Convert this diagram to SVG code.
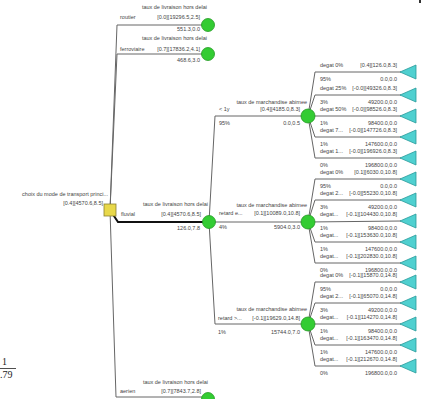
<svg xmlns="http://www.w3.org/2000/svg" width="422" height="399" viewBox="0 0 422 399">
<style>
text{font-family:"Liberation Sans",Arial,sans-serif;font-size:5.5px;fill:#444}
.e{text-anchor:end}
.ln{fill:none;stroke:#666;stroke-width:1}
.thick{fill:none;stroke:#111;stroke-width:2}
.ch{fill:#33cc33;stroke:#229922;stroke-width:0.8}
.dec{fill:#e8d84a;stroke:#8a8030;stroke-width:0.8}
.tm{fill:#4fd0d0;stroke:#2a9a9a;stroke-width:0.8}
.frag{font-family:"Liberation Serif","Times New Roman",serif;font-size:10px;fill:#222}
</style>
<rect width="422" height="399" fill="#fff"/>
<rect x="419" y="0" width="2" height="3" fill="#333"/>
<g id="fragment">
<text class="frag" x="2" y="365">1</text>
<line x1="0" y1="368.5" x2="16" y2="368.5" stroke="#222" stroke-width="0.8"/>
<text class="frag" x="0" y="378">.79</text>
</g>
<g id="connectors">
<path class="ln" d="M110,210 L117,25 L208,25"/>
<path class="ln" d="M110,210 L117,54 L208,54"/>
<path class="ln" d="M110,210 L116,397 L208,397"/>
<path class="thick" d="M110,210 L118,222 L209,222"/>
<path class="ln" d="M209,222 L215,116 L308,116"/>
<path class="ln" d="M209,222 L308,222"/>
<path class="ln" d="M209,222 L215,324 L308,324"/>
<path class="ln" d="M308,116 L315,72 L401,72 M308,116 L315,95 L401,95 M308,116 L401,116 M308,116 L315,137 L401,137 M308,116 L315,158 L401,158"/>
<path class="ln" d="M308,222 L315,179 L401,179 M308,222 L315,200 L401,200 M308,222 L401,221 M308,222 L315,242 L401,242 M308,222 L315,263 L401,263"/>
<path class="ln" d="M308,324 L315,282 L401,282 M308,324 L315,303 L401,303 M308,324 L401,324 M308,324 L315,345 L401,345 M308,324 L315,366 L401,366"/>
</g>
<g id="decision">
<text class="e" x="108" y="196">choix du mode de transport princi...</text>
<text class="e" x="103" y="205">[0.4][4570.6,8.5]</text>
<rect class="dec" x="104" y="204" width="12" height="12"/>
</g>
<g id="routier">
<text class="e" x="207" y="9">taux de livraison hors delai</text>
<text x="120" y="19">routier</text>
<text class="e" x="200" y="19">[0.0][19296.5,2.5]</text>
<text class="e" x="200" y="31">551.3,0.0</text>
<circle class="ch" cx="208" cy="25" r="6.5"/>
</g>
<g id="ferroviaire">
<text class="e" x="207" y="40">taux de livraison hors delai</text>
<text x="120" y="51">ferroviaire</text>
<text class="e" x="200" y="51">[0.7][17836.2,4.1]</text>
<text class="e" x="200" y="62">468.6,3.0</text>
<circle class="ch" cx="208" cy="54" r="6.5"/>
</g>
<g id="fluvial">
<text class="e" x="208" y="206">taux de livraison hors delai</text>
<text x="121" y="216">fluvial</text>
<text class="e" x="201" y="216">[0.4][4570.6,8.5]</text>
<text class="e" x="200" y="230">126.0,7.8</text>
<circle class="ch" cx="209" cy="222" r="6.5"/>
</g>
<g id="aerien">
<text class="e" x="208" y="384">taux de livraison hors delai</text>
<text x="120" y="393">aerien</text>
<text class="e" x="201" y="393">[0.7][7843.7,2.8]</text>
<circle class="ch" cx="208" cy="399" r="6.5"/>
</g>
<g id="moins1y">
<text class="e" x="307" y="104">taux de marchandise abimee</text>
<text x="219" y="111">&lt; 1y</text>
<text class="e" x="300" y="111">[0.4][4185.0,8.3]</text>
<text x="219" y="125">95%</text>
<text class="e" x="300" y="125">0.0,0.5</text>
<circle class="ch" cx="308" cy="116" r="7"/>
</g>
<g id="retard-e">
<text class="e" x="307" y="207">taux de marchandise abimee</text>
<text x="219" y="215">retard e...</text>
<text class="e" x="300" y="215">[0.1][10089.0,10.8]</text>
<text x="219" y="229">4%</text>
<text class="e" x="300" y="229">5904.0,3.0</text>
<circle class="ch" cx="308" cy="222" r="7"/>
</g>
<g id="retard-sup">
<text class="e" x="307" y="311">taux de marchandise abimee</text>
<text x="218" y="320">retard &gt;...</text>
<text class="e" x="300" y="320">[-0.1][19629.0,14.8]</text>
<text x="218" y="334">1%</text>
<text class="e" x="300" y="334">15744.0,7.0</text>
<circle class="ch" cx="308" cy="324" r="7"/>
</g>
<g id="leaves-g1">
<text x="320" y="67">degat 0%</text><text class="e" x="397" y="67">[0.4][126.0,8.3]</text>
<text x="320" y="81">95%</text><text class="e" x="397" y="81">0.0,0.0</text>
<polygon class="tm" points="400,72 416,65 416,79"/>
<text x="320" y="90">degat 25%</text><text class="e" x="397" y="90">[-0.0][49326.0,8.3]</text>
<text x="320" y="104">3%</text><text class="e" x="397" y="104">49200.0,0.0</text>
<polygon class="tm" points="400,95 416,88 416,102"/>
<text x="320" y="111">degat 50%</text><text class="e" x="397" y="111">[-0.0][98526.0,8.3]</text>
<text x="320" y="125">1%</text><text class="e" x="397" y="125">98400.0,0.0</text>
<polygon class="tm" points="400,116 416,109 416,123"/>
<text x="320" y="132">degat 7...</text><text class="e" x="397" y="132">[-0.0][147726.0,8.3]</text>
<text x="320" y="146">1%</text><text class="e" x="397" y="146">147600.0,0.0</text>
<polygon class="tm" points="400,137 416,130 416,144"/>
<text x="320" y="153">degat 1...</text><text class="e" x="397" y="153">[-0.0][196926.0,8.3]</text>
<text x="320" y="167">0%</text><text class="e" x="397" y="167">196800.0,0.0</text>
<polygon class="tm" points="400,158 416,151 416,165"/>
</g>
<g id="leaves-g2">
<text x="320" y="174">degat 0%</text><text class="e" x="397" y="174">[0.1][6030.0,10.8]</text>
<text x="320" y="188">95%</text><text class="e" x="397" y="188">0.0,0.0</text>
<polygon class="tm" points="400,179 416,172 416,186"/>
<text x="320" y="195">degat 2...</text><text class="e" x="397" y="195">[-0.0][55230.0,10.8]</text>
<text x="320" y="209">3%</text><text class="e" x="397" y="209">49200.0,0.0</text>
<polygon class="tm" points="400,200 416,193 416,207"/>
<text x="320" y="216">degat...</text><text class="e" x="397" y="216">[-0.1][104430.0,10.8]</text>
<text x="320" y="230">1%</text><text class="e" x="397" y="230">98400.0,0.0</text>
<polygon class="tm" points="400,221 416,214 416,228"/>
<text x="320" y="237">degat...</text><text class="e" x="397" y="237">[-0.1][153630.0,10.8]</text>
<text x="320" y="251">1%</text><text class="e" x="397" y="251">147600.0,0.0</text>
<polygon class="tm" points="400,242 416,235 416,249"/>
<text x="320" y="258">degat...</text><text class="e" x="397" y="258">[-0.1][202830.0,10.8]</text>
<text x="320" y="272">0%</text><text class="e" x="397" y="272">196800.0,0.0</text>
<polygon class="tm" points="400,263 416,256 416,270"/>
</g>
<g id="leaves-g3">
<text x="320" y="277">degat 0%</text><text class="e" x="397" y="277">[-0.1][15870.0,14.8]</text>
<text x="320" y="291">95%</text><text class="e" x="397" y="291">0.0,0.0</text>
<polygon class="tm" points="400,282 416,275 416,289"/>
<text x="320" y="298">degat 2...</text><text class="e" x="397" y="298">[-0.1][65070.0,14.8]</text>
<text x="320" y="312">3%</text><text class="e" x="397" y="312">49200.0,0.0</text>
<polygon class="tm" points="400,303 416,296 416,310"/>
<text x="320" y="319">degat...</text><text class="e" x="397" y="319">[-0.1][114270.0,14.8]</text>
<text x="320" y="333">1%</text><text class="e" x="397" y="333">98400.0,0.0</text>
<polygon class="tm" points="400,324 416,317 416,331"/>
<text x="320" y="340">degat...</text><text class="e" x="397" y="340">[-0.1][163470.0,14.8]</text>
<text x="320" y="354">1%</text><text class="e" x="397" y="354">147600.0,0.0</text>
<polygon class="tm" points="400,345 416,338 416,352"/>
<text x="320" y="361">degat...</text><text class="e" x="397" y="361">[-0.1][212670.0,14.8]</text>
<text x="320" y="375">0%</text><text class="e" x="397" y="375">196800.0,0.0</text>
<polygon class="tm" points="400,366 416,359 416,373"/>
</g>
</svg>
